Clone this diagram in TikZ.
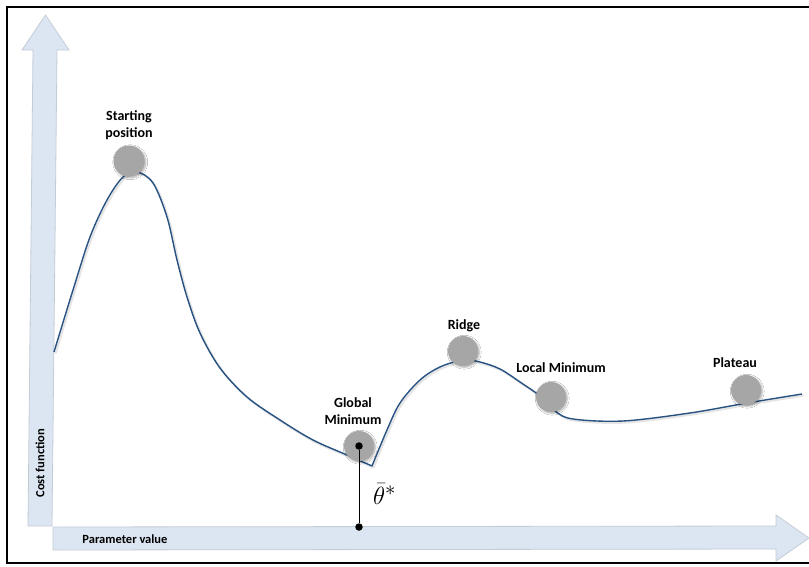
\documentclass[tikz,border=0pt]{standalone}
\usepackage{fontspec}
\setmainfont{Carlito}
\usetikzlibrary{shadows,shadows.blur}
\definecolor{axisfill}{HTML}{DCE6F2}
\definecolor{axisline}{HTML}{C4CCD6}
\definecolor{curveblue}{RGB}{40,82,130}
\definecolor{ballgray}{HTML}{A6A6A6}
\tikzset{
  axisarrow/.style={fill=axisfill, draw=axisline, line width=0.8pt},
  costcurve/.style={draw=curveblue, line width=1.4pt, line join=round},
  curveshadow/.style={draw=black!10, line width=2.2pt, line join=round},
  ball/.style={circle, fill=ballgray, minimum size=30pt, inner sep=0pt,
    blur shadow={shadow xshift=1.2pt, shadow yshift=-1.2pt, shadow blur steps=6, shadow opacity=35}},
  lbl/.style={font=\fontsize{14}{16.5}\selectfont\bfseries, align=center, inner sep=0pt},
  axlbl/.style={font=\fontsize{12.5}{14}\selectfont\bfseries, inner sep=0pt},
  dot/.style={circle, fill=black, minimum size=7.5pt, inner sep=0pt}
}
\begin{document}
\begin{tikzpicture}[x=1pt, y=-1pt]
\useasboundingbox (0,0) rectangle (809,566);
\fill[white] (0,0) rectangle (809,566);
% frame
\draw[black, line width=2pt] (820,7) -- (7,7) -- (7,563) -- (820,563);

% axes
\draw[axisarrow] (28,526) -- (33,50) -- (22,50) -- (45.5,15) -- (69,50) -- (57,50) -- (52,526) -- cycle;
\draw[axisarrow] (53,527) -- (776,526) -- (776,515) -- (809,538) -- (776,561) -- (776,549) -- (53,550) -- cycle;
\node[axlbl, rotate=90] (ylab) at (40,463) {Cost function};
\node[axlbl] (xlab) at (125,539) {Parameter value};

% cost function curve (with soft shadow)
\begin{scope}[xshift=1.5pt, yshift=-1.5pt]
\draw[curveshadow] plot[smooth, tension=0.55] coordinates {(54,352) (73,290) (90,237) (107,200) (123,177) (137,172) (153,183) (167,217) (177,260) (187,297) (200,333) (220,368) (247,397) (280,420) (313,440) (347,455) (372,466)}
  -- plot[smooth, tension=0.55] coordinates {(372,466) (387,430) (400,403) (420,380) (440,367) (463,360) (480,362) (500,369) (520,382) (540,396) (555,411) (573,419) (623,421) (690,413) (747,403) (802,394)};
\end{scope}
\draw[costcurve] plot[smooth, tension=0.55] coordinates {(54,352) (73,290) (90,237) (107,200) (123,177) (137,172) (153,183) (167,217) (177,260) (187,297) (200,333) (220,368) (247,397) (280,420) (313,440) (347,455) (372,466)}
  -- plot[smooth, tension=0.55] coordinates {(372,466) (387,430) (400,403) (420,380) (440,367) (463,360) (480,362) (500,369) (520,382) (540,396) (555,411) (573,419) (623,421) (690,413) (747,403) (802,394)};

% balls
\node[ball, minimum size=31pt] (start) at (129,161) {};
\node[ball] (global) at (359,446) {};
\node[ball] (ridge) at (463,351) {};
\node[ball] (local) at (551,397) {};
\node[ball] (plateau) at (746,390) {};

% labels
\node[lbl] (startlbl) at (129,125) {Starting\\position};
\node[lbl] (globallbl) at (353,411) {Global\\Minimum};
\node[lbl] (ridgelbl) at (464,326) {Ridge};
\node[lbl] (locallbl) at (561,368) {Local Minimum};
\node[lbl] (plateaulbl) at (735,363) {Plateau};

% optimum marker
\node[dot] (opt) at (359,446) {};
\node[dot] (optx) at (359,527) {};
\draw[black, line width=0.6pt] (opt) -- (optx);
\node[anchor=west, inner sep=0pt, font=\fontsize{31}{33}\selectfont] (theta) at (373,494) {$\bar{\theta}^{*}$};
\end{tikzpicture}
\end{document}
